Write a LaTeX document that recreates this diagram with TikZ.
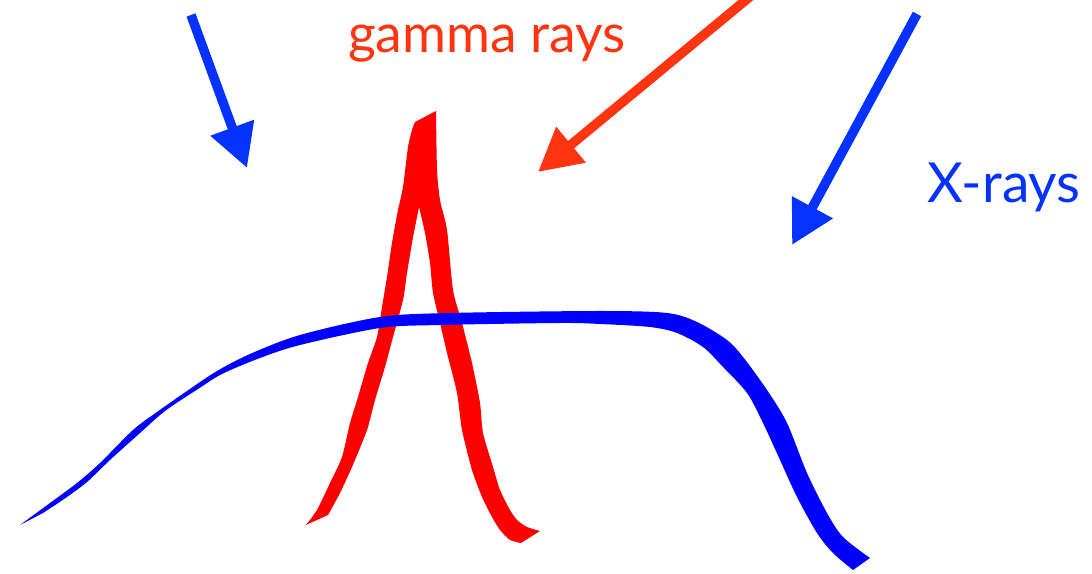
\documentclass[tikz,border=0pt]{standalone}
\usepackage{fontspec}
\setmainfont{Lato}
\usetikzlibrary{arrows.meta}
\definecolor{arrowblue}{RGB}{5,50,255}
\definecolor{curveblue}{RGB}{0,0,255}
\definecolor{peakred}{RGB}{255,0,0}
\definecolor{gammaorange}{RGB}{255,52,16}

\begin{document}
\begin{tikzpicture}[x = 0.01cm, y = -0.01cm,
        ray/.style = {line width = 2.7pt, -{Triangle[width = 12.5pt, length = 12.2pt]}},
        raytext/.style = {anchor = base, inner sep = 0pt}]
        \useasboundingbox (0,0) rectangle (1092,574);
        \clip (0,0) rectangle (1092,574);

        % labels
        \node[raytext, text = gammaorange, font = \fontsize{15.2pt}{18pt}\selectfont] (gamma) at (487,53) {gamma rays};
        \node[raytext, text = arrowblue, font = \fontsize{15.7pt}{18pt}\selectfont] (xrays) at (1004,203) {X-rays};

        % incoming rays
        \coordinate (b1s) at (191,15);
        \coordinate (b1e) at (247,168);
        \coordinate (gs) at (752,-5);
        \coordinate (ge) at (538,172);
        \coordinate (b2s) at (917,14);
        \coordinate (b2e) at (792,245);

        \draw[ray, arrowblue] (b1s) -- (b1e);
        \draw[ray, gammaorange] (gs) -- (ge);
        \draw[ray, arrowblue] (b2s) -- (b2e);

        % gamma-ray line
        \fill[peakred] plot[smooth, tension = 0.4] coordinates {(306,525) (317,510) (330,483) (342,457) (350,423) (358,397) (368,363) (377,337) (382,307) (387,277) (392,243) (398,210) (403,187) (408,147) (412,130) (415,122)}
            -- plot[smooth, tension = 0.4] coordinates {(436,111) (437,170) (440,200) (447,230) (453,290) (462,323) (472,363) (480,403) (483,433) (493,467) (500,490) (510,510) (517,520) (527,527) (540,531)}
            -- plot[smooth, tension = 0.4] coordinates {(521,543) (510,540) (500,530) (492,517) (482,497) (472,470) (462,430) (457,393) (447,353) (440,323) (433,293) (430,263) (425,233) (419,207)}
            -- plot[smooth, tension = 0.4] coordinates {(413,237) (407,273) (403,300) (393,337) (385,367) (375,400) (368,427) (362,443) (352,467) (340,493) (328,515)}
            -- cycle;

        % X-ray continuum
        \fill[curveblue] plot[smooth, tension = 0.5] coordinates {(20,525) (50,503) (77,483) (100,463) (133,430) (157,412) (187,391) (217,371) (250,354) (300,335) (380,317) (450,313) (600,311) (667,313) (697,322) (727,340) (743,357) (767,390) (787,423) (807,473) (827,513) (843,537) (870,558)}
            -- plot[smooth, tension = 0.5] coordinates {(853,570) (833,553) (817,533) (797,497) (780,460) (763,423) (747,393) (723,367) (703,347) (677,333) (650,327) (600,324) (560,323) (440,325) (380,328) (300,345) (260,358) (222,374) (198,389) (165,411) (140,433) (110,460) (87,482) (67,497) (43,513)}
            -- cycle;
    \end{tikzpicture}
\end{document}
